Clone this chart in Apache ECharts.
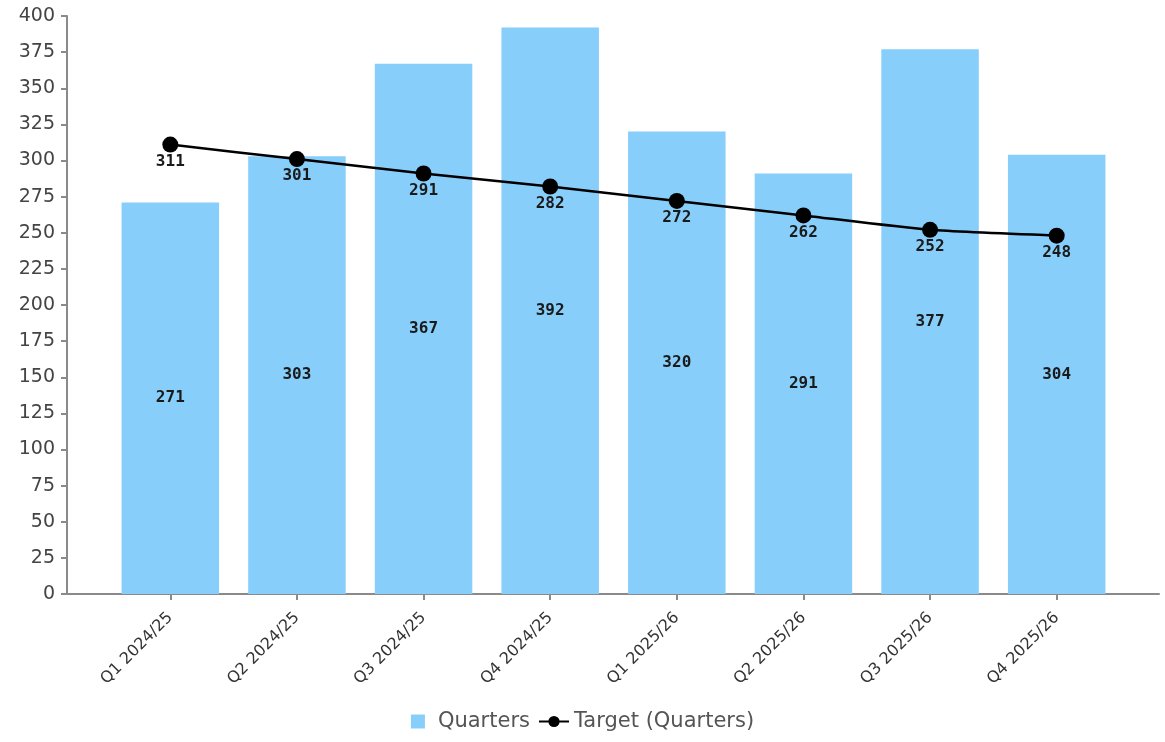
<!DOCTYPE html>
<html>
<head>
<meta charset="utf-8">
<script src="https://cdn.jsdelivr.net/npm/echarts@6/dist/echarts.min.js"></script>
<style>
html,body{margin:0;padding:0;background:#fff;}
#chart{width:1165px;height:742px;}
</style>
</head>
<body>
<div id="chart"></div>
<script>
const categories = ['Q1 2024/25','Q2 2024/25','Q3 2024/25','Q4 2024/25','Q1 2025/26','Q2 2025/26','Q3 2025/26','Q4 2025/26'];
const quarters = [271, 303, 367, 392, 320, 291, 377, 304];
const target = [311, 301, 291, 282, 272, 262, 252, 248];
const yMin = 0, yMax = 400, yStep = 25;

const chart = echarts.init(document.getElementById('chart'), null, {renderer:'canvas'});
const axisGrey = '#8a8a8a';
chart.setOption({
  animation: false,
  backgroundColor: '#ffffff',
  textStyle: {fontFamily: 'DejaVu Sans'},
  grid: [
    {left: 107, right: 45, top: 16, bottom: 148},
    {left: 67, right: 6, top: 16, bottom: 148}
  ],
  xAxis: [
    {
      type: 'category', gridIndex: 0, data: categories,
      axisLine: {show: false},
      axisTick: {show: true, alignWithLabel: true, length: 6, lineStyle: {color: axisGrey, width: 2}},
      axisLabel: {rotate: 45, margin: 21, fontSize: 16, color: '#333', fontFamily: 'DejaVu Sans'}
    },
    {
      type: 'value', gridIndex: 1, min: 0, max: 1,
      axisLine: {show: true, lineStyle: {color: axisGrey, width: 2}},
      axisTick: {show: false}, axisLabel: {show: false}, splitLine: {show: false}
    }
  ],
  yAxis: [
    {type: 'value', gridIndex: 0, min: yMin, max: yMax, interval: yStep, show: false},
    {
      type: 'value', gridIndex: 1, min: yMin, max: yMax, interval: yStep,
      axisLine: {show: true, lineStyle: {color: axisGrey, width: 2}},
      axisTick: {show: true, length: 6, lineStyle: {color: axisGrey, width: 2}},
      axisLabel: {fontSize: 19, color: '#444', margin: 12, fontFamily: 'DejaVu Sans'},
      splitLine: {show: false}
    }
  ],
  legend: {
    bottom: 5, left: 'center',
    itemGap: 8, itemWidth: 30, itemHeight: 14,
    textStyle: {fontSize: 21, color: '#555', fontFamily: 'DejaVu Sans'},
    data: [
      {name: 'Quarters', icon: 'path://M0,0h10v10h-10z'},
      {name: 'Target (Quarters)'}
    ]
  },
  series: [
    {
      name: 'Quarters', type: 'bar', xAxisIndex: 0, yAxisIndex: 0,
      data: quarters, barCategoryGap: '23%',
      itemStyle: {color: '#87CEFA'},
      label: {show: true, position: 'inside', fontSize: 16, color: '#1a1a1a', fontFamily: 'DejaVu Sans Mono', fontWeight: 'bold'}
    },
    {
      name: 'Target (Quarters)', type: 'line', xAxisIndex: 0, yAxisIndex: 0,
      data: target, smooth: 0.2,
      symbol: 'circle', symbolSize: 16,
      lineStyle: {color: '#000', width: 2.5},
      itemStyle: {color: '#000'},
      label: {show: true, position: 'bottom', distance: 1, fontSize: 16, color: '#1a1a1a', fontFamily: 'DejaVu Sans Mono', fontWeight: 'bold'}
    }
  ]
});
</script>
</body>
</html>
